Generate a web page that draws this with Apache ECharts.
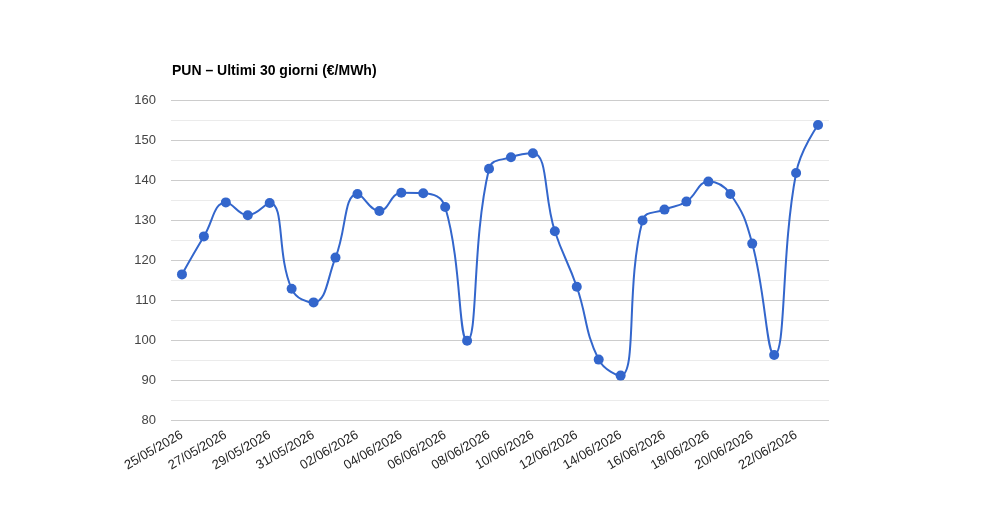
<!DOCTYPE html>
<html>
<head>
<meta charset="utf-8">
<script src="https://cdn.jsdelivr.net/npm/echarts@6/dist/echarts.min.js"></script>
<style>
  html, body { margin: 0; padding: 0; background: #fff; }
  #chart { width: 1000px; height: 520px; }
</style>
</head>
<body>
<div id="chart"></div>
<script>
var dates = [
  '25/05/2026', '26/05/2026', '27/05/2026', '28/05/2026', '29/05/2026', '30/05/2026',
  '31/05/2026', '01/06/2026', '02/06/2026', '03/06/2026', '04/06/2026', '05/06/2026',
  '06/06/2026', '07/06/2026', '08/06/2026', '09/06/2026', '10/06/2026', '11/06/2026',
  '12/06/2026', '13/06/2026', '14/06/2026', '15/06/2026', '16/06/2026', '17/06/2026',
  '18/06/2026', '19/06/2026', '20/06/2026', '21/06/2026', '22/06/2026', '23/06/2026'
];
var pun = [
  116.4, 125.9, 134.4, 131.2, 134.25, 112.8,
  109.4, 120.6, 136.5, 132.25, 136.8, 136.7,
  133.25, 99.8, 142.8, 145.7, 146.7, 127.2,
  113.3, 95.1, 91.1, 129.9, 132.6, 134.6,
  139.6, 136.5, 124.1, 96.25, 141.75, 153.75
];
var yTicks = { min: 80, max: 160, step: 10 };

var myChart = echarts.init(document.getElementById('chart'));
var option = {
  animation: false,
  title: {
    text: 'PUN – Ultimi 30 giorni (€/MWh)',
    left: 172,
    top: 64,
    padding: 0,
    textStyle: { fontFamily: 'Liberation Sans, Arial', fontSize: 14, fontWeight: 'bold', color: '#000' }
  },
  grid: { left: 171, right: 171, top: 100, bottom: 100 },
  xAxis: {
    type: 'category',
    data: dates,
    boundaryGap: true,
    axisLine: { show: false },
    axisTick: { show: false },
    axisLabel: {
      interval: 1,
      rotate: 30,
      margin: 14,
      fontFamily: 'Liberation Sans, Arial',
      fontSize: 13,
      color: '#222'
    }
  },
  yAxis: {
    type: 'value',
    min: yTicks.min,
    max: yTicks.max,
    interval: yTicks.step,
    axisLine: { show: false },
    axisTick: { show: false },
    axisLabel: {
      margin: 15,
      fontFamily: 'Liberation Sans, Arial',
      fontSize: 13,
      color: '#444'
    },
    splitLine: { lineStyle: { color: '#cccccc', width: 1 } },
    minorTick: { show: false, splitNumber: 2 },
    minorSplitLine: { show: true, lineStyle: { color: '#ebebeb', width: 1 } }
  },
  series: [{
    type: 'line',
    data: pun,
    smooth: 0.45,
    symbol: 'circle',
    symbolSize: 10,
    itemStyle: { color: '#3366cc' },
    lineStyle: { color: '#3366cc', width: 2 }
  }]
};
myChart.setOption(option);
</script>
</body>
</html>
